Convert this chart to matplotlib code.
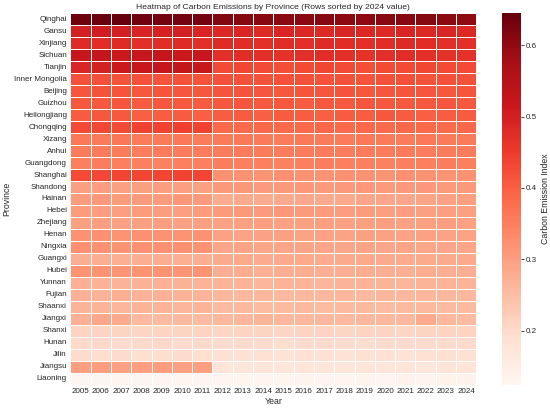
import matplotlib
matplotlib.use("Agg")
import matplotlib.pyplot as plt
import seaborn as sns
import pandas as pd
import numpy as np

years = list(range(2005, 2025))
provinces = ["Qinghai", "Gansu", "Xinjiang", "Sichuan", "Tianjin", "Inner Mongolia",
             "Beijing", "Guizhou", "Heilongjiang", "Chongqing", "Xizang", "Anhui",
             "Guangdong", "Shanghai", "Shandong", "Hainan", "Hebei", "Zhejiang",
             "Henan", "Ningxia", "Guangxi", "Hubei", "Yunnan", "Fujian", "Shaanxi",
             "Jiangxi", "Shanxi", "Hunan", "Jilin", "Jiangsu", "Liaoning"]

qinghai = [0.638, 0.640, 0.645, 0.635, 0.630, 0.632, 0.630, 0.615, 0.612, 0.610, 0.606, 0.608, 0.612, 0.606, 0.604, 0.608, 0.610, 0.612, 0.606, 0.602]
gansu = [0.500, 0.505, 0.500, 0.492, 0.495, 0.500, 0.492, 0.486, 0.490, 0.482, 0.490, 0.486, 0.482, 0.490, 0.486, 0.482, 0.490, 0.486, 0.490, 0.484]
xinjiang = [0.480, 0.476, 0.480, 0.472, 0.476, 0.480, 0.472, 0.480, 0.476, 0.472, 0.476, 0.472, 0.480, 0.476, 0.472, 0.476, 0.482, 0.476, 0.472, 0.472]
sichuan = [0.520, 0.525, 0.515, 0.520, 0.525, 0.515, 0.520, 0.470, 0.475, 0.470, 0.466, 0.470, 0.475, 0.470, 0.466, 0.470, 0.476, 0.472, 0.466, 0.466]
tianjin = [0.490, 0.500, 0.515, 0.520, 0.525, 0.530, 0.520, 0.430, 0.435, 0.430, 0.425, 0.430, 0.435, 0.430, 0.425, 0.430, 0.430, 0.435, 0.430, 0.430]
inner_mongolia = [0.420, 0.422, 0.418, 0.420, 0.416, 0.420, 0.418, 0.422, 0.420, 0.418, 0.420, 0.422, 0.418, 0.420, 0.416, 0.420, 0.422, 0.418, 0.420, 0.420]
beijing = [0.412, 0.418, 0.414, 0.410, 0.414, 0.412, 0.410, 0.414, 0.416, 0.412, 0.410, 0.414, 0.412, 0.416, 0.410, 0.412, 0.414, 0.412, 0.410, 0.415]
guizhou = [0.410, 0.408, 0.412, 0.406, 0.410, 0.408, 0.406, 0.410, 0.412, 0.408, 0.410, 0.406, 0.410, 0.408, 0.412, 0.410, 0.408, 0.410, 0.412, 0.410]
heilongjiang = [0.404, 0.410, 0.408, 0.400, 0.402, 0.404, 0.400, 0.402, 0.404, 0.400, 0.404, 0.402, 0.400, 0.404, 0.402, 0.410, 0.404, 0.400, 0.402, 0.404]
chongqing = [0.430, 0.432, 0.428, 0.440, 0.440, 0.445, 0.440, 0.386, 0.384, 0.388, 0.384, 0.386, 0.388, 0.384, 0.386, 0.384, 0.388, 0.386, 0.384, 0.386]
xizang = [0.362, 0.360, 0.364, 0.358, 0.360, 0.362, 0.358, 0.360, 0.362, 0.360, 0.358, 0.362, 0.360, 0.358, 0.362, 0.360, 0.358, 0.362, 0.360, 0.360]
anhui = [0.356, 0.354, 0.358, 0.352, 0.356, 0.354, 0.352, 0.356, 0.354, 0.358, 0.352, 0.356, 0.354, 0.352, 0.356, 0.354, 0.358, 0.352, 0.354, 0.355]
guangdong = [0.350, 0.352, 0.348, 0.350, 0.346, 0.350, 0.348, 0.352, 0.350, 0.348, 0.346, 0.350, 0.352, 0.348, 0.350, 0.346, 0.350, 0.348, 0.352, 0.350]
shanghai = [0.430, 0.432, 0.436, 0.434, 0.436, 0.440, 0.436, 0.322, 0.320, 0.318, 0.322, 0.320, 0.318, 0.322, 0.320, 0.318, 0.322, 0.320, 0.318, 0.320]
shandong = [0.300, 0.302, 0.298, 0.300, 0.302, 0.300, 0.298, 0.308, 0.310, 0.306, 0.308, 0.310, 0.306, 0.308, 0.310, 0.306, 0.308, 0.310, 0.306, 0.308]
hainan = [0.305, 0.308, 0.304, 0.306, 0.304, 0.310, 0.306, 0.280, 0.284, 0.280, 0.282, 0.286, 0.282, 0.284, 0.288, 0.290, 0.286, 0.292, 0.296, 0.300]
hebei = [0.305, 0.302, 0.300, 0.304, 0.302, 0.300, 0.304, 0.306, 0.308, 0.306, 0.310, 0.306, 0.304, 0.302, 0.304, 0.300, 0.302, 0.298, 0.300, 0.298]
zhejiang = [0.298, 0.300, 0.296, 0.298, 0.300, 0.296, 0.298, 0.296, 0.298, 0.300, 0.296, 0.298, 0.300, 0.296, 0.298, 0.300, 0.296, 0.298, 0.300, 0.296]
henan = [0.320, 0.322, 0.318, 0.322, 0.320, 0.318, 0.320, 0.296, 0.294, 0.296, 0.298, 0.294, 0.296, 0.294, 0.298, 0.296, 0.294, 0.296, 0.294, 0.294]
ningxia = [0.322, 0.320, 0.318, 0.322, 0.320, 0.322, 0.318, 0.290, 0.292, 0.290, 0.288, 0.292, 0.290, 0.288, 0.292, 0.290, 0.292, 0.288, 0.290, 0.290]
guangxi = [0.275, 0.276, 0.274, 0.276, 0.275, 0.274, 0.276, 0.282, 0.284, 0.280, 0.282, 0.284, 0.280, 0.282, 0.284, 0.282, 0.280, 0.284, 0.282, 0.282]
hubei = [0.316, 0.318, 0.314, 0.316, 0.318, 0.314, 0.316, 0.276, 0.278, 0.274, 0.276, 0.278, 0.274, 0.276, 0.278, 0.276, 0.274, 0.278, 0.276, 0.276]
yunnan = [0.272, 0.270, 0.268, 0.270, 0.272, 0.270, 0.268, 0.266, 0.268, 0.264, 0.266, 0.268, 0.264, 0.266, 0.268, 0.266, 0.264, 0.268, 0.266, 0.266]
fujian = [0.272, 0.270, 0.274, 0.270, 0.272, 0.270, 0.268, 0.262, 0.260, 0.262, 0.258, 0.262, 0.260, 0.262, 0.258, 0.262, 0.260, 0.262, 0.260, 0.260]
shaanxi = [0.266, 0.268, 0.264, 0.266, 0.268, 0.264, 0.266, 0.256, 0.258, 0.254, 0.256, 0.258, 0.254, 0.256, 0.258, 0.254, 0.256, 0.258, 0.256, 0.256]
jiangxi = [0.272, 0.286, 0.284, 0.258, 0.256, 0.258, 0.256, 0.262, 0.264, 0.266, 0.260, 0.262, 0.260, 0.258, 0.260, 0.262, 0.260, 0.284, 0.262, 0.255]
shanxi = [0.212, 0.210, 0.212, 0.208, 0.210, 0.212, 0.210, 0.208, 0.210, 0.212, 0.208, 0.210, 0.212, 0.208, 0.210, 0.212, 0.208, 0.210, 0.212, 0.210]
hunan = [0.200, 0.202, 0.198, 0.200, 0.202, 0.198, 0.200, 0.196, 0.198, 0.196, 0.194, 0.196, 0.198, 0.196, 0.194, 0.196, 0.198, 0.196, 0.198, 0.198]
jilin = [0.196, 0.194, 0.196, 0.192, 0.194, 0.196, 0.192, 0.188, 0.186, 0.188, 0.184, 0.188, 0.186, 0.184, 0.188, 0.186, 0.184, 0.188, 0.190, 0.188]
jiangsu = [0.300, 0.302, 0.298, 0.300, 0.302, 0.298, 0.300, 0.176, 0.174, 0.176, 0.172, 0.176, 0.174, 0.172, 0.176, 0.174, 0.176, 0.172, 0.178, 0.176]
liaoning = [0.125, 0.124, 0.126, 0.124, 0.125, 0.124, 0.126, 0.128, 0.130, 0.128, 0.130, 0.132, 0.128, 0.130, 0.132, 0.130, 0.134, 0.132, 0.136, 0.134]

rows = [qinghai, gansu, xinjiang, sichuan, tianjin, inner_mongolia, beijing, guizhou,
        heilongjiang, chongqing, xizang, anhui, guangdong, shanghai, shandong, hainan,
        hebei, zhejiang, henan, ningxia, guangxi, hubei, yunnan, fujian, shaanxi,
        jiangxi, shanxi, hunan, jilin, jiangsu, liaoning]

df = pd.DataFrame(rows, index=provinces, columns=years)

sns.set_theme(style="white")
plt.rcParams['font.family'] = ['Liberation Sans', 'DejaVu Sans']

fig = plt.figure(figsize=(5.5, 4.12), dpi=100)
ax = fig.add_axes([0.128, 0.066, 0.738, 0.902])
cax = fig.add_axes([0.913, 0.066, 0.034, 0.902])

sns.heatmap(df, ax=ax, cbar_ax=cax, cmap="Reds", linewidths=0.5, linecolor="white",
            xticklabels=True, yticklabels=True,
            cbar_kws={"label": "Carbon Emission Index"})

ax.set_title("Heatmap of Carbon Emissions by Province (Rows sorted by 2024 value)",
             fontsize=6.1, pad=3, color="#262626")
ax.set_xlabel("Year", fontsize=6.3, labelpad=1, color="#262626")
ax.set_ylabel("Province", fontsize=6.3, labelpad=2, color="#262626")
ax.tick_params(axis='both', labelsize=5.8, length=0, pad=2.5, labelcolor="#262626")
plt.setp(ax.get_xticklabels(), rotation=0)
plt.setp(ax.get_yticklabels(), rotation=0)

cax.tick_params(labelsize=5.8, length=2, width=0.6, pad=1.5, labelcolor="#262626")
cax.set_ylabel("Carbon Emission Index", fontsize=6.3, labelpad=3, color="#262626")
cax.set_yticks([0.2, 0.3, 0.4, 0.5, 0.6])
for s in cax.spines.values():
    s.set_visible(False)

fig.savefig("out.png", dpi=100)
